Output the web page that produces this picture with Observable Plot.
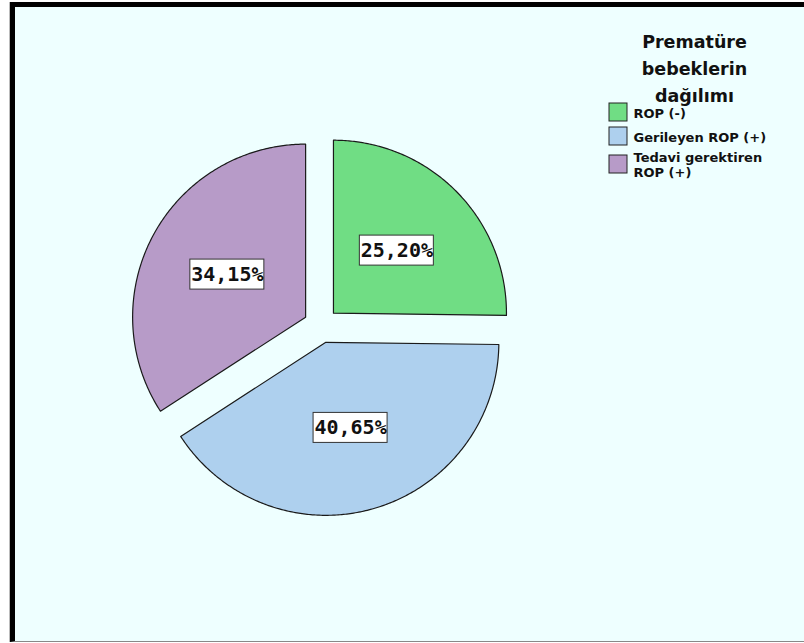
<!DOCTYPE html>
<html>
<head>
<meta charset="utf-8">
<script src="https://cdn.jsdelivr.net/npm/d3@7"></script>
<script src="https://cdn.jsdelivr.net/npm/@observablehq/plot@0.6"></script>
<style>
  html, body { margin: 0; padding: 0; background: #ffffff; }
  #wrap { position: relative; width: 804px; height: 643px; overflow: hidden; background: #ffffff; }
  #panel { position: absolute; left: 10px; top: 2px; width: 789px; height: 634px;
           background: #eeffff; border-left: 5px solid #000; border-top: 5px solid #000;
           border-bottom: 1px solid #888; box-shadow: -1px 0 0 #bbb; }
  #chart { position: absolute; left: 0; top: 0; }
</style>
</head>
<body>
<div id="wrap"><div id="panel"></div><div id="chart"></div></div>
<script>
// ---- data ----
const categories = ["ROP (-)", "Gerileyen ROP (+)", "Tedavi gerektiren ROP (+)"];
const legendLines = [["ROP (-)"], ["Gerileyen ROP (+)"], ["Tedavi gerektiren", "ROP (+)"]];
const values = [25.20, 40.65, 34.15];
const valueLabels = ["25,20%", "40,65%", "34,15%"];
const colors = ["#70dd84", "#aed0ee", "#b79bc8"];
const titleLines = ["Prematüre", "bebeklerin", "dağılımı"];

// ---- layout ----
const cx = 320.5, cy = 325, R = 173, explode = 17.5, labelDist = 0.515 * R;
const arcs = d3.pie().sort(null).value(d => d)(values);

const slicePts = [];
const labelData = [];
arcs.forEach((a, i) => {
  const mid = (a.startAngle + a.endAngle) / 2;
  const ox = cx + explode * Math.sin(mid), oy = cy - explode * Math.cos(mid);
  slicePts.push({cat: categories[i], x: ox, y: oy});
  const n = Math.max(8, Math.ceil((a.endAngle - a.startAngle) / 0.01));
  for (let k = 0; k <= n; k++) {
    const t = a.startAngle + (a.endAngle - a.startAngle) * k / n;
    slicePts.push({cat: categories[i], x: ox + R * Math.sin(t), y: oy - R * Math.cos(t)});
  }
  const lx = ox + labelDist * Math.sin(mid), ly = oy - labelDist * Math.cos(mid);
  labelData.push({cat: categories[i], text: valueLabels[i], x: lx, y: ly});
});
const boxW = 74, boxH = 30;

// legend
const legX = 609, swW = 18, swH = 18;
const legendData = legendLines.map((lines, i) => {
  const t0 = 103 + 24 * i + (lines.length - 1) * 4;
  return {cat: categories[i], text: lines.join("\n"), y1: t0, y2: t0 + swH, yc: t0 + swH / 2};
});
const titleData = titleLines.map((t, i) => ({text: t, y: 42 + 27 * i}));

const plot = Plot.plot({
  width: 804, height: 643, margin: 0,
  x: {type: "identity", axis: null},
  y: {type: "identity", axis: null},
  color: {domain: categories, range: colors, legend: false},
  style: {background: "none", overflow: "visible"},
  marks: [
    Plot.line(slicePts, {x: "x", y: "y", z: "cat", fill: "cat", stroke: "#1a1a1a", strokeWidth: 1.2, curve: "linear-closed"}),
    Plot.rect(labelData, {x1: d => d.x - boxW / 2, x2: d => d.x + boxW / 2, y1: d => d.y - boxH / 2, y2: d => d.y + boxH / 2, fill: "white", stroke: "#333", strokeWidth: 1}),
    Plot.text(labelData, {x: "x", y: "y", text: "text", fontSize: 20, fontWeight: "bold", fontFamily: "DejaVu Sans Mono", fill: "#111"}),
    Plot.text(titleData, {x: () => 694, y: "y", text: "text", fontSize: 17.5, fontWeight: "bold", fontFamily: "DejaVu Sans", fill: "#111", textAnchor: "middle"}),
    Plot.rect(legendData, {x1: () => legX, x2: () => legX + swW, y1: "y1", y2: "y2", fill: "cat", stroke: "#222", strokeWidth: 1}),
    Plot.text(legendData, {x: () => legX + swW + 6, y: "yc", text: "text", fontSize: 13, fontWeight: "bold", fontFamily: "DejaVu Sans", fill: "#111", textAnchor: "start", lineHeight: 1.2})
  ]
});
document.getElementById("chart").appendChild(plot);
</script>
</body>
</html>
